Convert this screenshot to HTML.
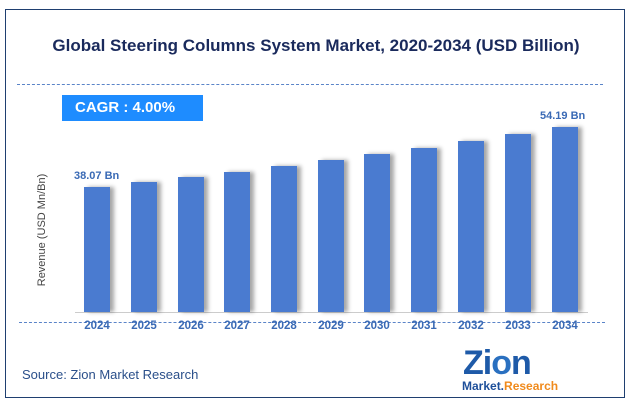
<!DOCTYPE html>
<html><head><style>
body{margin:0;width:632px;height:402px;background:#fff;position:relative;font-family:"Liberation Sans",sans-serif;overflow:hidden}
.a{position:absolute}
.bar{position:absolute;width:26px;background:#4a7bd0;box-shadow:4px 0 4px rgba(0,0,0,.35)}
.yr{position:absolute;top:320px;width:40px;text-align:center;font-size:11.5px;font-weight:bold;color:#3a6ab5}
</style></head><body>
<div class="a" style="left:5px;top:9px;width:618px;height:387px;border:1.5px solid #1f3f70"></div>
<div class="a" style="left:0;width:632px;top:36px;text-align:center;font-size:17px;font-weight:bold;color:#1a2a5c">Global Steering Columns System Market, 2020-2034 (USD Billion)</div>
<div class="a" style="left:17px;top:84px;width:586px;border-top:1px dashed #5a84c8"></div>
<div class="a" style="left:62px;top:95px;width:141px;height:26px;background:#1e8cff;color:#fff;font-weight:bold;font-size:15px;line-height:26px;text-indent:13px">CAGR : 4.00%</div>
<div class="a" style="left:36px;top:300px;transform:rotate(-90deg);transform-origin:0 0;font-size:11px;color:#444;white-space:nowrap;width:140px;text-align:center">Revenue (USD Mn/Bn)</div>
<div class="a" style="left:75px;top:312px;width:513px;border-top:1px solid #ccc"></div>
<div class="a" style="left:19px;top:322px;width:586px;border-top:1px dashed #5a84c8"></div>
<div class="a" style="left:74px;top:170px;font-size:11px;font-weight:bold;color:#3a6ab5">38.07 Bn</div>
<div class="a" style="left:540px;top:110px;font-size:11px;font-weight:bold;color:#3a6ab5">54.19 Bn</div>
<div class="bar" style="left:84px;top:187px;height:125px"></div>
<div class="bar" style="left:131px;top:182px;height:130px"></div>
<div class="bar" style="left:178px;top:177px;height:135px"></div>
<div class="bar" style="left:224px;top:172px;height:140px"></div>
<div class="bar" style="left:271px;top:166px;height:146px"></div>
<div class="bar" style="left:318px;top:160px;height:152px"></div>
<div class="bar" style="left:364px;top:154px;height:158px"></div>
<div class="bar" style="left:411px;top:148px;height:164px"></div>
<div class="bar" style="left:458px;top:141px;height:171px"></div>
<div class="bar" style="left:505px;top:134px;height:178px"></div>
<div class="bar" style="left:552px;top:127px;height:185px"></div>
<div class="yr" style="left:77px">2024</div><div class="yr" style="left:124px">2025</div><div class="yr" style="left:171px">2026</div><div class="yr" style="left:217px">2027</div><div class="yr" style="left:264px">2028</div><div class="yr" style="left:311px">2029</div><div class="yr" style="left:357px">2030</div><div class="yr" style="left:404px">2031</div><div class="yr" style="left:451px">2032</div><div class="yr" style="left:498px">2033</div><div class="yr" style="left:545px">2034</div>
<div class="a" style="left:22px;top:367px;font-size:13px;color:#2a4f8a">Source: Zion Market Research</div>
<div class="a" style="left:463px;top:346px;font-size:34px;font-weight:bold;color:#1e5aa8;letter-spacing:-1px;line-height:34px">Zi<span style="color:#2a70c0">o</span>n</div>
<div class="a" style="left:462px;top:379px;font-size:12px;font-weight:bold;color:#1e4f9a">Market.<span style="color:#f08a1c">Research</span></div>
</body></html>
